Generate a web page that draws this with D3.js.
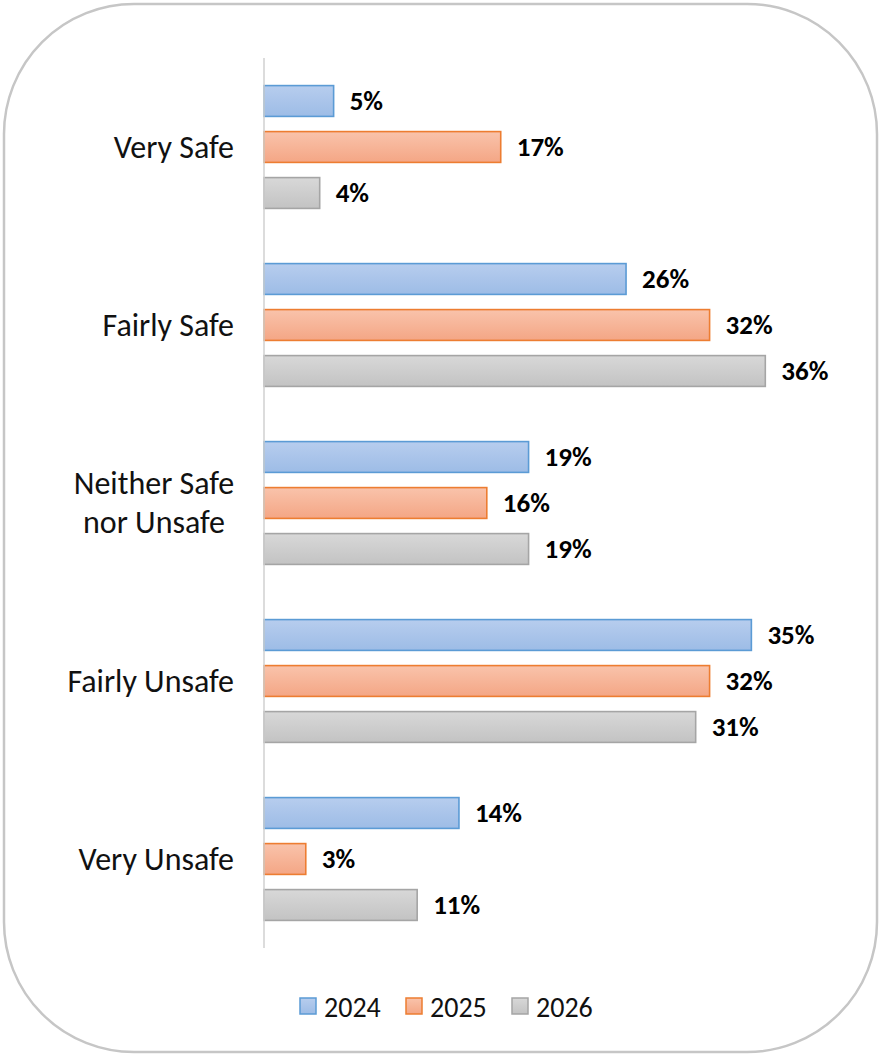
<!DOCTYPE html>
<html>
<head>
<meta charset="utf-8">
<script src="https://cdn.jsdelivr.net/npm/d3@7"></script>
<style>
  html, body { margin: 0; padding: 0; background: #fff; }
  svg { display: block; }
</style>
</head>
<body>
<svg id="chart" width="881" height="1056"></svg>
<script>
// Perceived safety responses, share of respondents by year
const categories = ["Very Safe", "Fairly Safe", "Neither Safe nor Unsafe", "Fairly Unsafe", "Very Unsafe"];
const categoryLines = [["Very Safe"], ["Fairly Safe"], ["Neither Safe", "nor Unsafe"], ["Fairly Unsafe"], ["Very Unsafe"]];
const years = ["2024", "2025", "2026"];
const values2024 = [5, 26, 19, 35, 14];
const values2025 = [17, 32, 16, 32, 3];
const values2026 = [4, 36, 19, 31, 11];
const seriesValues = [values2024, values2025, values2026];

const palette = [
  { top: "#b7cdee", bottom: "#9dbce6", stroke: "#5b9bd5" },
  { top: "#f9c3ab", bottom: "#f4a685", stroke: "#ed7d31" },
  { top: "#d8d8d8", bottom: "#c3c3c3", stroke: "#a5a5a5" }
];

const svg = d3.select("#chart");
const font = "Carlito, 'Open Sans', Lato, sans-serif";

// Rounded frame
svg.append("rect")
  .attr("x", 4).attr("y", 4)
  .attr("width", 873).attr("height", 1048)
  .attr("rx", 130).attr("ry", 130)
  .attr("fill", "#fff")
  .attr("stroke", "#c6c6c6")
  .attr("stroke-width", 2.5);

const defs = svg.append("defs");
palette.forEach((p, i) => {
  const g = defs.append("linearGradient")
    .attr("id", "grad" + i)
    .attr("x1", 0).attr("y1", 0).attr("x2", 0).attr("y2", 1);
  g.append("stop").attr("offset", "0%").attr("stop-color", p.top);
  g.append("stop").attr("offset", "100%").attr("stop-color", p.bottom);
});

const x0 = 264, yTop = 58, yBottom = 948;
const x = d3.scaleLinear().domain([0, 40]).range([x0, x0 + 557]);
const y = d3.scaleBand().domain(categories).range([yTop, yBottom]).paddingInner(0.31).paddingOuter(0.155);
const yInner = d3.scaleBand().domain(years).range([0, y.bandwidth()]).paddingInner(0.33);

const rows = [];
categories.forEach((c, ci) => {
  years.forEach((yr, si) => {
    rows.push({ cat: c, year: yr, si, value: seriesValues[si][ci] });
  });
});

const bars = svg.append("g");
bars.selectAll("rect")
  .data(rows)
  .join("rect")
  .attr("x", x(0))
  .attr("y", d => y(d.cat) + yInner(d.year))
  .attr("width", d => x(d.value) - x(0))
  .attr("height", yInner.bandwidth())
  .attr("fill", d => `url(#grad${d.si})`)
  .attr("stroke", d => palette[d.si].stroke)
  .attr("stroke-width", 1.6);

// Value labels
svg.append("g").selectAll("text")
  .data(rows)
  .join("text")
  .attr("x", d => x(d.value) + 16)
  .attr("y", d => y(d.cat) + yInner(d.year) + yInner.bandwidth() / 2)
  .attr("dy", "0.34em")
  .attr("font-family", font)
  .attr("font-weight", "bold")
  .attr("font-size", 27)
  .attr("fill", "#000")
  .text(d => d.value + "%");

// Category axis line
svg.append("line")
  .attr("x1", x0).attr("x2", x0)
  .attr("y1", yTop).attr("y2", yBottom)
  .attr("stroke", "#d0d0d0").attr("stroke-width", 1.5);

// Category labels
const catG = svg.append("g");
categories.forEach((c, ci) => {
  const lines = categoryLines[ci];
  const cy = y(c) + y.bandwidth() / 2;
  const lh = 39;
  const t = catG.append("text")
    .attr("text-anchor", lines.length > 1 ? "middle" : "end")
    .attr("font-family", font)
    .attr("font-size", 32)
    .attr("fill", "#111");
  lines.forEach((ln, li) => {
    t.append("tspan")
      .attr("x", lines.length > 1 ? 154 : 234)
      .attr("y", cy + (li - (lines.length - 1) / 2) * lh)
      .attr("dy", "0.34em")
      .text(ln);
  });
});

// Legend
const legend = svg.append("g");
const legendX = [300, 406, 512];
years.forEach((yr, si) => {
  legend.append("rect")
    .attr("x", legendX[si]).attr("y", 998)
    .attr("width", 16).attr("height", 16)
    .attr("fill", `url(#grad${si})`)
    .attr("stroke", palette[si].stroke)
    .attr("stroke-width", 1.5);
  legend.append("text")
    .attr("x", legendX[si] + 24)
    .attr("y", 1007)
    .attr("dy", "0.34em")
    .attr("font-family", font)
    .attr("font-size", 28)
    .attr("fill", "#111")
    .text(yr);
});
</script>
</body>
</html>
